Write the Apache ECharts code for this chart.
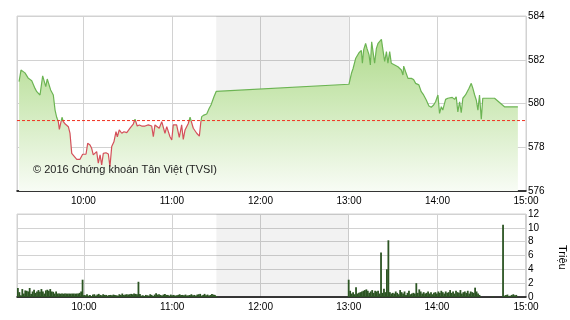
<!DOCTYPE html>
<html>
<head>
<meta charset="utf-8">
<script src="https://cdn.jsdelivr.net/npm/echarts@6/dist/echarts.min.js"></script>
<style>html,body{margin:0;padding:0;background:#fff}#c{width:570px;height:320px}</style>
</head>
<body>
<div id="c"></div>
<script>
// minutes after 09:00
const priceMinutes = [16.4,17.7,20.4,22.7,25.0,27.2,28.4,30.6,31.1,32.4,33.5,34.5,35.5,36.7,37.8,39.6,40.8,41.9,43.0,43.7,44.6,45.5,46.4,47.7,49.8,50.9,52.1,53.2,55.5,57.7,59.5,61.8,62.9,64.5,65.6,66.7,67.9,69.0,70.1,71.3,72.4,73.5,75.3,76.9,78.0,79.2,80.7,82.1,83.0,84.3,86.0,87.5,89.4,91.6,93.8,95.0,96.5,97.9,99.5,101.8,104.0,106.3,107.4,108.5,109.7,111.4,113.1,114.2,115.3,116.5,117.5,118.7,119.9,120.9,122.1,123.2,125.0,126.6,127.7,128.9,131.1,132.3,133.4,134.5,136.8,138.6,139.5,140.2,141.7,143.6,145.3,146.5,147.5,148.5,150,
240,241.7,242.8,244.6,245.5,246.8,248.4,249.1,250.0,251.3,252.2,253.6,254.5,255.4,256.3,257.4,258.6,259.7,260.8,262.0,263.0,264.2,265.4,266.4,267.6,268.7,269.8,271.0,273.2,275.5,276.6,277.1,278.4,280.0,282.3,283.8,285.2,287.4,289.0,290.6,292.4,294.2,295.8,297.4,298.7,300.3,301.4,302.6,303.6,305.5,307.0,308.2,310.0,311.6,312.7,313.8,315.0,316.1,317.2,319.0,319.9,321.3,322.9,324.0,325.2,326.3,327.4,328.5,329.7,330.7,333.0,338.7,345.4,354.5];
const prices = [581.0,581.53,581.4,581.15,581.04,580.69,580.54,580.39,580.31,581.26,581.35,580.77,581.12,581.1,580.62,580.39,579.7,579.37,579.17,578.82,578.79,579.37,579.17,579.06,578.94,578.65,577.72,577.65,577.45,577.45,577.68,577.69,578.18,578.1,577.95,577.65,577.57,577.8,577.27,577.65,577.19,577.72,577.75,577.69,577.11,578.03,578.25,578.71,578.48,578.79,578.64,578.71,578.67,578.87,579.06,579.28,578.97,579.02,578.97,578.97,579.02,578.97,578.48,579.02,578.97,578.87,579.17,579.21,578.64,578.94,578.94,578.48,578.33,579.02,578.94,579.02,578.45,579.02,578.36,578.79,579.09,579.37,579.32,578.87,578.64,578.51,579.09,579.4,579.47,579.52,579.78,579.93,580.0,580.31,580.55,
580.88,581.38,581.6,582.07,581.99,582.32,582.42,581.84,582.46,582.75,582.52,582.22,581.76,582.82,582.75,581.84,582.52,582.75,582.82,582.93,582.46,581.92,582.37,581.84,582.37,581.84,581.92,581.76,581.68,581.53,581.3,581.71,581.45,581.15,581.15,581.1,580.92,580.85,580.54,580.39,580.16,579.89,579.83,579.93,580.08,580.39,579.55,579.85,579.7,580.19,580.24,580.16,580.28,580.19,580.31,579.62,580.08,579.58,580.24,580.39,580.31,580.69,580.92,580.69,580.39,580.16,579.7,580.39,579.28,580.24,580.24,580.24,579.85,579.85];
const refPrice = 579.22;

// volume (millions), one value per minute
const volMorningStart = 15;
const volMorning = [1.3,0.7,0.25,1.15,0.5,0.95,0.9,0.8,1.3,0.45,0.8,1.05,0.6,0.8,1.0,0.75,1.15,0.8,0.5,0.95,1.05,0.9,1.15,0.8,0.75,0.5,0.8,0.5,0.5,0.48,0.5,0.48,0.52,0.5,0.48,0.5,0.48,0.5,0.5,0.48,0.5,0.5,0.6,0.8,
2.5,
0.3,0.25,0.4,0.2,0.3,0.15,0.35,0.4,0.2,0.35,0.45,0.3,0.25,0.4,0.3,0.3,0.2,0.3,0.3,0.25,0.35,0.3,0.25,0.2,0.4,0.3,0.5,0.3,0.35,0.4,0.35,0.4,0.45,0.4,0.5,0.45,0.4,
2.2,
0.45,0.2,0.25,0.15,0.3,0.25,0.2,0.4,0.3,0.15,0.35,0.55,0.35,0.4,0.3,0.2,0.35,0.45,0.3,0.3,0.2,0.35,0.25,0.3,0.2,0.25,0.3,0.4,0.3,0.3,0.25,0.35,0.2,0.25,0.3,0.4,0.25,0.3,0.2,0.35,0.4,0.45,0.2,0.3,0.45,0.25,0.35,0.2,0.3,0.45,0.35,0.3,0.15];
const volAfternoonStart = 240;
const volAfternoon = [2.5,
0.9,0.5,0.7,0.4,1.4,0.5,0.6,0.7,0.8,0.9,1.0,1.1,0.9,0.6,0.8,1.0,0.6,0.9,0.8,0.9,0.5,
6.45,0.6,1.2,0.7,4.0,8.2,
0.7,0.5,0.6,0.5,0.8,0.6,0.4,1.0,0.7,0.5,0.8,0.3,0.6,0.9,0.4,0.5,0.6,0.5,
2.0,
0.6,1.1,0.8,0.5,0.7,0.5,0.6,0.8,0.5,0.7,0.4,0.6,0.7,0.5,0.8,0.6,0.9,0.7,0.5,0.8,0.6,0.7,1.0,0.6,0.8,0.5,0.9,0.7,0.6,1.0,0.5,0.7,0.8,0.6,0.9,0.5,0.8,0.7,0.6,1.35,0.8,0.5,0.3,
0,0,0,0,0,0,0,0,0.1,0,0,0,0,0,0,
10.45,
0.2,0.3,0.35,0.1,0.2,0.3,0.4,0.25,0.3];

const priceTicks = [576, 578, 580, 582, 584];
const volTicks = [0, 2, 4, 6, 8, 10, 12];
const axisStartMin = 15, axisEndMin = 360, lunchStartMin = 150, lunchEndMin = 240;

const base = new Date(2016, 0, 4, 9, 0, 0).getTime();
const T = m => base + Math.round(m * 60000);

const priceData = priceMinutes.map((m, i) => [T(m), prices[i]]);
const refData = [[T(axisStartMin), refPrice], [T(axisEndMin), refPrice]];
const volData = [];
volMorning.forEach((v, i) => volData.push([T(volMorningStart + i), v]));
volAfternoon.forEach((v, i) => volData.push([T(volAfternoonStart + i), v]));

const FONT = 'Liberation Sans, Arial, sans-serif';
const gridCol = '#d2d2d2';
const refColor = '#f0301e';

function xAx(idx) {
  return {
    type: 'time', gridIndex: idx, min: T(axisStartMin), max: T(axisEndMin),
    minInterval: 3600000, maxInterval: 3600000,
    axisLabel: { formatter: '{HH}:{mm}', fontSize: 10, fontFamily: FONT, color: '#000', margin: 5, showMinLabel: false, showMaxLabel: true },
    axisLine: { show: true, lineStyle: { color: '#000', width: 1.5 } },
    axisTick: { show: false },
    splitLine: { show: true, lineStyle: { color: gridCol, width: 1 } }
  };
}
function yAx(idx, min, max, interval) {
  return {
    type: 'value', gridIndex: idx, position: 'right', min: min, max: max, interval: interval,
    axisLabel: { fontSize: 10, fontFamily: FONT, color: '#000', margin: 2 },
    axisLine: { show: false }, axisTick: { show: false },
    splitLine: { show: true, lineStyle: { color: gridCol, width: 1 } }
  };
}

const lunchArea = {
  silent: true,
  itemStyle: { color: 'rgba(0,0,0,0.05)' },
  data: [[{ xAxis: T(lunchStartMin) }, { xAxis: T(lunchEndMin) }]]
};

const chart = echarts.init(document.getElementById('c'), null, { renderer: 'canvas' });
chart.setOption({
  animation: false,
  backgroundColor: '#fff',
  color: [refColor, '#3b6630', refColor],
  grid: [
    { left: 17, right: 44, top: 16, height: 175, show: true, borderColor: gridCol, borderWidth: 1, backgroundColor: 'transparent' },
    { left: 17, right: 44, top: 214, height: 83, show: true, borderColor: gridCol, borderWidth: 1, backgroundColor: 'transparent' }
  ],
  xAxis: [xAx(0), xAx(1)],
  yAxis: [yAx(0, priceTicks[0], priceTicks[priceTicks.length - 1], 2), yAx(1, volTicks[0], volTicks[volTicks.length - 1], 2)],
  visualMap: [{
    show: false, type: 'piecewise', seriesIndex: [0], dimension: 1,
    pieces: [{ gte: 500, lte: refPrice, color: '#d4505a' }, { gt: refPrice, lte: 700, color: '#6cb453' }],
    outOfRange: { color: '#6cb453' }
  }],
  series: [
    {
      type: 'line', xAxisIndex: 0, yAxisIndex: 0, data: priceData, showSymbol: false, symbol: 'none',
      lineStyle: { width: 1.2 },
      areaStyle: {
        opacity: 1,
        color: { type: 'linear', x: 0, y: 16, x2: 0, y2: 191, global: true,
          colorStops: [{ offset: 0, color: '#a6d57f' }, { offset: 0.45, color: '#cae7b2' }, { offset: 1, color: '#f8fcf5' }] }
      },
      markArea: lunchArea,
      z: 3
    },
    {
      type: 'line', xAxisIndex: 0, yAxisIndex: 0, data: refData, symbol: 'none', showSymbol: false, silent: true,
      color: refColor,
      itemStyle: { color: refColor },
      lineStyle: { color: refColor, type: [3, 2], width: 1, opacity: 1 },
      z: 4
    },
    {
      type: 'bar', xAxisIndex: 1, yAxisIndex: 1, data: volData, barWidth: 1.8, barMinHeight: 0,
      itemStyle: { color: '#2c5523' },
      markArea: lunchArea
    }
  ],
  graphic: [
    { type: 'text', left: 33, top: 164, style: { text: '© 2016 Chứng khoán Tân Việt (TVSI)', font: '11px Liberation Sans, Arial, sans-serif', fill: '#222' }, z: 10 },
    { type: 'text', x: 568, y: 245, rotation: -Math.PI / 2, style: { text: 'Triệu', font: '11px Liberation Sans, Arial, sans-serif', fill: '#000' }, z: 10 }
  ]
});
</script>
</body>
</html>
